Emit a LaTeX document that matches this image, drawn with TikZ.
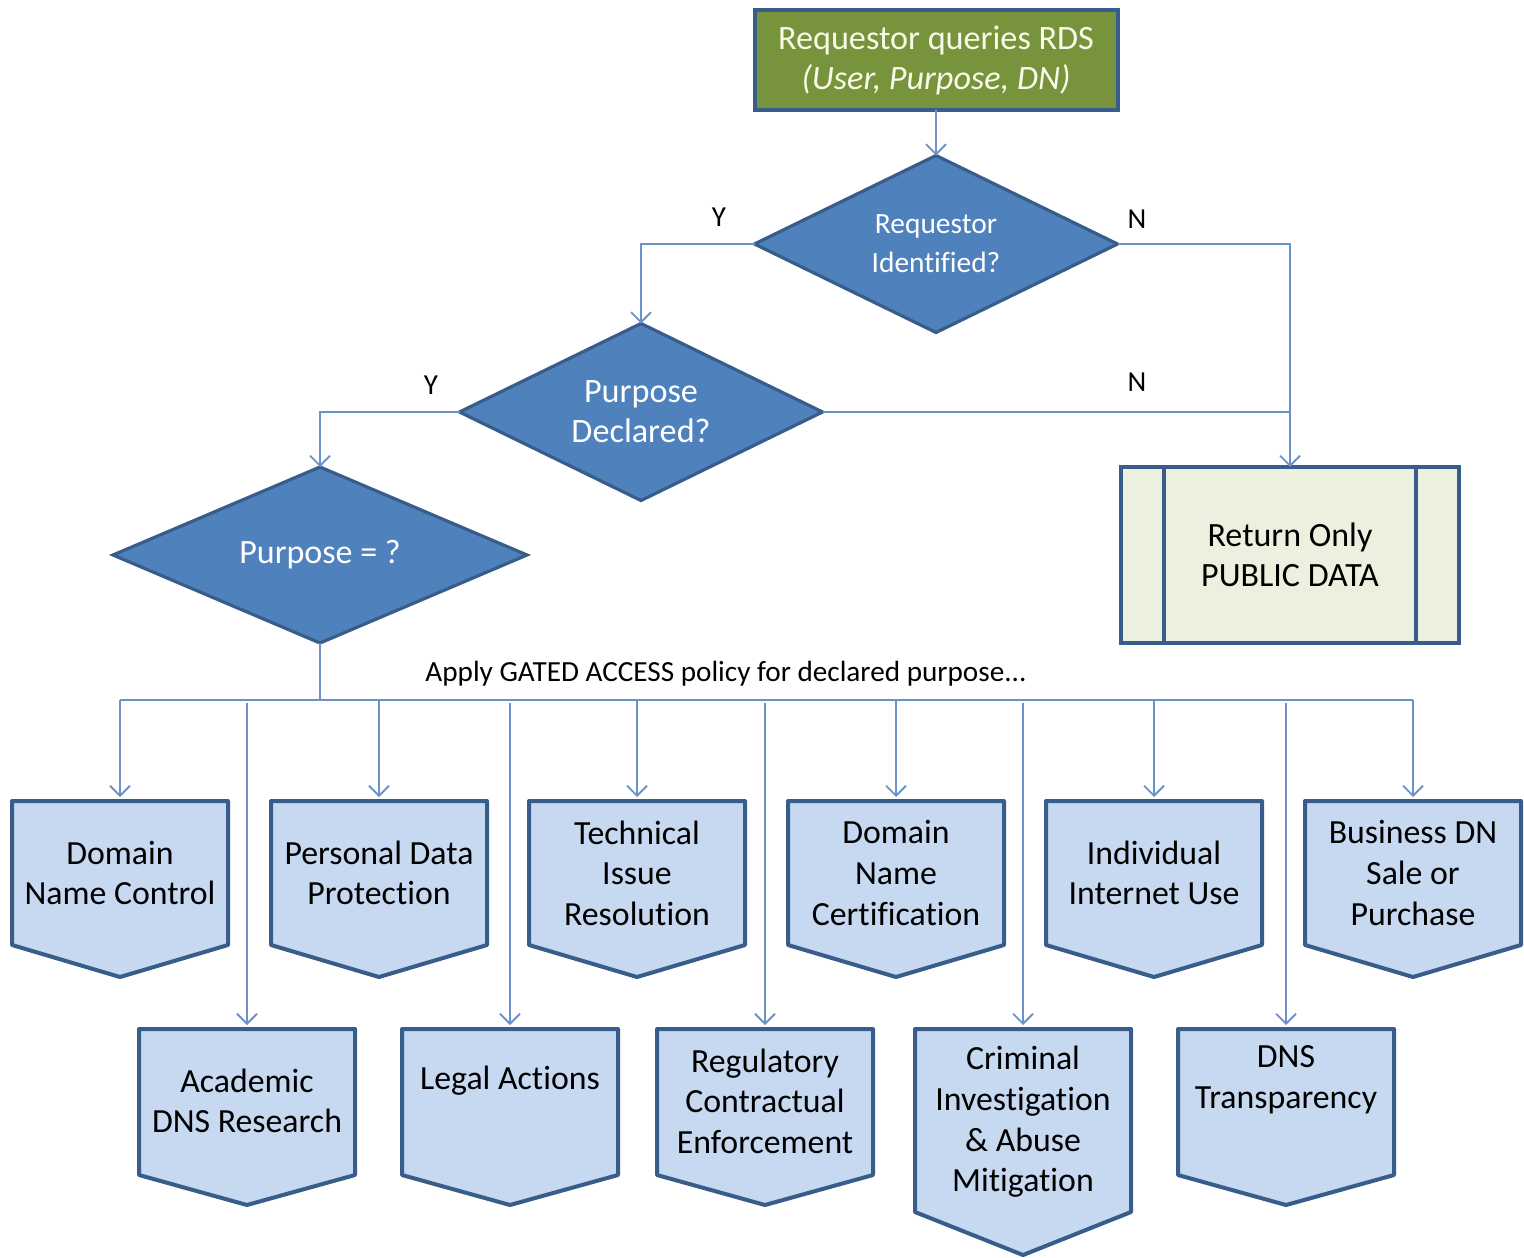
\documentclass[tikz,border=0pt]{standalone}
\usepackage{fontspec}
\setmainfont{Carlito}[Ligatures=NoCommon]
\usetikzlibrary{arrows.meta,shapes.geometric,calc}
\definecolor{bord}{HTML}{385D8A}
\definecolor{dfill}{HTML}{4F81BD}
\definecolor{gfill}{HTML}{77933C}
\definecolor{pfill}{HTML}{C6D9F1}
\definecolor{rfill}{HTML}{EBF1DE}
\definecolor{connc}{HTML}{6A92C8}
\definecolor{cream}{HTML}{FAFAE8}
\tikzset{
  startbox/.style={draw=bord,fill=gfill,line width=2pt,outer sep=0pt,inner sep=0pt,
    minimum width=181.5pt,minimum height=50pt,text=cream,align=center,
    font=\fontsize{17.1}{20}\selectfont},
  decision/.style={shape=diamond,draw=bord,fill=dfill,line width=1.6pt,inner sep=0pt,outer sep=0pt,
    text=white,align=center},
  retbox/.style={draw=bord,fill=rfill,line width=2pt,outer sep=0pt,inner sep=0pt,
    minimum width=169pt,minimum height=88pt,align=center,font=\fontsize{17}{20}\selectfont},
  body/.style={draw=none,inner sep=0pt,outer sep=0pt,minimum width=108pt},
  pentshape/.style={draw=bord,fill=pfill,line width=2pt,line join=round},
  pentlabel/.style={align=center,inner sep=0pt,font=\fontsize{16.9}{20.3}\selectfont},
  conn/.style={draw=connc,line width=0.9pt},
  arr/.style={conn,-{Straight Barb[length=5pt,width=10pt]}},
  yn/.style={font=\fontsize{14.5}{16}\selectfont,inner sep=0pt}
}
% #1 name, #2 cx, #3 top, #4 side bottom, #5 tip, #6 text y, #7 text
\newcommand\pentbox[7]{%
  \node[body,minimum height={(#4-#3)*0.5pt}] (#1) at (#2,{(#3+#4)/2}) {};
  \path[pentshape] (#1.north west) -- (#1.north east) -- (#1.south east)
     -- (#2,#5) -- (#1.south west) -- cycle;
  \node[pentlabel] (#1-t) at (#2,#6) {#7};
}
\begin{document}
\begin{tikzpicture}[x=0.5pt,y=-0.5pt]
\useasboundingbox[fill=white] (0,0) rectangle (1524,1257);

\node[startbox] (start) at (936,60) {Requestor queries RDS\\\textit{(User, Purpose, DN)}};

\node[decision,minimum width=181.5pt,minimum height=88.5pt,aspect=2.05,
  font=\fontsize{14.7}{19.5}\selectfont] (d1) at (936,244) {Requestor\\Identified?};
\node[decision,minimum width=181.5pt,minimum height=88.5pt,aspect=2.05,
  font=\fontsize{17.1}{20}\selectfont] (d2) at (641,412) {Purpose\\Declared?};
\node[decision,minimum width=207pt,minimum height=88pt,aspect=2.35,
  font=\fontsize{17}{20}\selectfont] (d3) at (320,555) {Purpose = ?};

\node[retbox] (ret) at (1290,555) {Return Only\\PUBLIC DATA};
\draw[draw=bord,line width=2pt] ([xshift=21.5pt]ret.north west) -- ([xshift=21.5pt]ret.south west);
\draw[draw=bord,line width=2pt] ([xshift=-21.5pt]ret.north east) -- ([xshift=-21.5pt]ret.south east);

% connectors top part
\draw[arr] (start.south) -- (d1.north);
\draw[arr] (d1.west) -| (d2.north);
\draw[arr] (d1.east) -| (ret.north);
\draw[arr] (d2.west) -| (d3.north);
\draw[conn] (d2.east) -- (d2.east -| ret.north);

\node[yn] (y1) at (719,217) {Y};
\node[yn] (n1) at (1137,219) {N};
\node[yn] (y2) at (431,385) {Y};
\node[yn] (n2) at (1137,382) {N};

% purpose boxes, top row
\pentbox{p1}{120}{801}{945}{977}{873}{Domain\\Name Control}
\pentbox{p2}{379}{801}{945}{977}{873}{Personal Data\\Protection}
\pentbox{p3}{637}{801}{945}{977}{873}{Technical\\Issue\\Resolution}
\pentbox{p4}{896}{801}{945}{977}{873}{Domain\\Name\\Certification}
\pentbox{p5}{1154}{801}{945}{977}{873}{Individual\\Internet Use}
\pentbox{p6}{1413}{801}{945}{977}{873}{Business DN\\Sale or\\Purchase}
% bottom row
\pentbox{q1}{247}{1029}{1175}{1205}{1101}{Academic\\DNS Research}
\pentbox{q2}{510}{1029}{1175}{1205}{1081}{Legal Actions}
\pentbox{q3}{765}{1029}{1175}{1205}{1101}{Regulatory\\Contractual\\Enforcement}
\pentbox{q4}{1023}{1029}{1212}{1255}{1122}{Criminal\\Investigation\\\& Abuse\\Mitigation}
\pentbox{q5}{1286}{1029}{1175}{1205}{1080}{DNS\\Transparency}

% bus
\coordinate (bus) at (0,700);
\draw[conn] (d3.south) -- (d3.south |- bus);
\draw[conn] (p1.north |- bus) -- (p6.north |- bus);
\node[font=\fontsize{14.6}{17}\selectfont,inner sep=0pt] (apply) at (726,674)
  {Apply GATED ACCESS policy for declared purpose...};

\foreach \n in {p1,p2,p3,p4,p5,p6}
  \draw[arr] (\n.north |- bus) -- ([yshift=2pt]\n.north);
\foreach \n in {q1,q2,q3,q4,q5}
  \draw[arr] ([yshift=-1.5pt]\n.north |- bus) -- ([yshift=2pt]\n.north);
\end{tikzpicture}
\end{document}
